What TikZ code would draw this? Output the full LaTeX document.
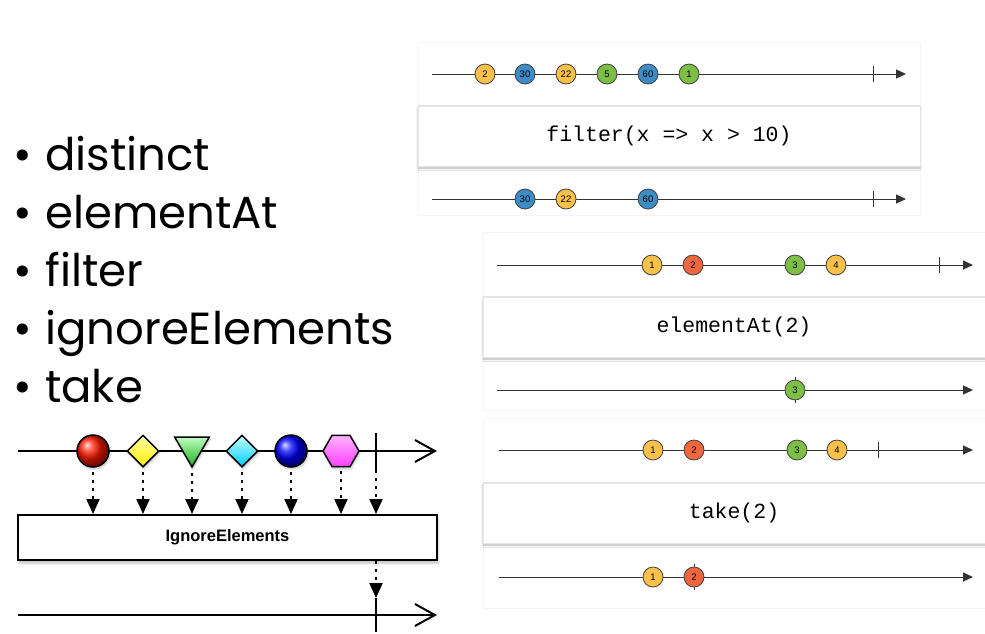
\documentclass[tikz,border=0pt]{standalone}
\usepackage{fontspec}
\setmainfont{Poppins}
\newfontfamily\monofont{Liberation Mono}
\newfontfamily\helvfont{Liberation Sans}
\usetikzlibrary{positioning,arrows.meta,calc,shapes.geometric,shadows.blur}
\definecolor{yel}{HTML}{F9C04A}
\definecolor{blu}{HTML}{3C8DC5}
\definecolor{grn}{HTML}{7DBF45}
\definecolor{org}{HTML}{F0663F}
\definecolor{lineGray}{HTML}{333333}
\definecolor{panelEdge}{HTML}{E6E6E6}

\tikzset{
  marble/.style={circle,draw=black!75,line width=0.8pt,minimum size=20pt,
    inner sep=0pt,font=\helvfont\fontsize{9.5}{9.5}\selectfont},
  timeline/.style={draw=lineGray,line width=1pt,-{Triangle[length=10pt,width=9pt]}},
  endtick/.style={draw=lineGray,line width=1pt},
  panel/.style={draw=panelEdge!40,fill=white,line width=0.6pt},
  opbox/.style={draw=panelEdge,fill=white,minimum height=60pt,inner sep=0pt,
    blur shadow={shadow xshift=0pt,shadow yshift=-2pt,shadow blur steps=4,shadow opacity=30},
    font=\monofont\fontsize{21.5}{21.5}\selectfont},
  rxline/.style={draw=black,line width=2pt,-{Straight Barb[length=20pt,width=22pt]}},
  rxtick/.style={draw=black,line width=2pt},
  rxshape/.style={draw=black,line width=1.5pt,inner sep=0pt,
    blur shadow={shadow xshift=1pt,shadow yshift=-2pt,shadow opacity=25}},
  emit/.style={draw=black,line width=2pt,dash pattern=on 3pt off 5pt,
    -{Triangle[length=15pt,width=13pt]}},
  item/.style={anchor=base west,font=\fontsize{45}{45}\selectfont,inner sep=0pt}
}

\begin{document}
\begin{tikzpicture}[x=1pt,y=-1pt]
\useasboundingbox (0,0) rectangle (985,633);

% operator list
\node[item] (l1) at (13,170) {\makebox[32pt][l]{\textbullet}distinct};
\node[item] (l2) at (13,228) {\makebox[32pt][l]{\textbullet}elementAt};
\node[item] (l3) at (13,286) {\makebox[32pt][l]{\textbullet}filter};
\node[item] (l4) at (13,344) {\makebox[32pt][l]{\textbullet}ignoreElements};
\node[item] (l5) at (13,402) {\makebox[32pt][l]{\textbullet}take};

% filter panel
\draw[panel] (418,42) rectangle (920,215);
\node[opbox,minimum width=502pt] (fop) at (669,136) {filter(x => x > 10)};
\coordinate (fa0) at (432,74);
\coordinate (fa9) at (906,74);
\draw[timeline] (fa0) -- (fa9);
\draw[endtick] (873,66) -- (873,82);
\foreach \x/\v/\c [count=\i] in {485/2/yel,525/30/blu,566/22/yel,607/5/grn,648/60/blu,689/1/grn}
  \node[marble,fill=\c] (fa\i) at (\x,74) {\v};
\coordinate (fb0) at (432,199);
\coordinate (fb9) at (906,199);
\draw[timeline] (fb0) -- (fb9);
\draw[endtick] (873,191) -- (873,207);
\foreach \x/\v/\c [count=\i] in {525/30/blu,566/22/yel,648/60/blu}
  \node[marble,fill=\c] (fb\i) at (\x,199) {\v};

% elementAt panel
\draw[panel] (483,232) rectangle (985,410);
\node[opbox,minimum width=502pt] (eop) at (734,327) {elementAt(2)};
\coordinate (ea0) at (497,265);
\coordinate (ea9) at (973,265);
\draw[timeline] (ea0) -- (ea9);
\draw[endtick] (939,257) -- (939,273);
\foreach \x/\v/\c [count=\i] in {652/1/yel,693/2/org,795/3/grn,836/4/yel}
  \node[marble,fill=\c] (ea\i) at (\x,265) {\v};
\coordinate (eb0) at (497,390);
\coordinate (eb9) at (973,390);
\draw[timeline] (eb0) -- (eb9);
\draw[endtick] (795,377) -- (795,403);
\node[marble,fill=grn] (eb1) at (795,390) {3};

% take panel
\draw[panel] (483,418) rectangle (985,608);
\node[opbox,minimum width=502pt] (top) at (734,513) {take(2)};
\coordinate (ta0) at (499,450);
\coordinate (ta9) at (973,450);
\draw[timeline] (ta0) -- (ta9);
\draw[endtick] (878,442) -- (878,458);
\foreach \x/\v/\c [count=\i] in {653/1/yel,694/2/org,797/3/grn,837/4/yel}
  \node[marble,fill=\c] (ta\i) at (\x,450) {\v};
\coordinate (tb0) at (499,577);
\coordinate (tb9) at (973,577);
\draw[timeline] (tb0) -- (tb9);
\draw[endtick] (694,564) -- (694,590);
\node[marble,fill=yel] (tb1) at (653,577) {1};
\node[marble,fill=org] (tb2) at (694,577) {2};

% ignoreElements marble diagram
\coordinate (ia0) at (18,451);
\coordinate (ia9) at (437,451);
\draw[rxline] (ia0) -- (ia9);
\node[rxshape,circle,minimum size=32pt,ball color=red!80!orange] (s1) at (93,451) {};
\node[rxshape,diamond,minimum size=32pt,top color=yellow!35,bottom color=yellow!85!orange] (s2) at (143,451) {};
\node[rxshape,regular polygon,regular polygon sides=3,shape border rotate=180,minimum size=40pt,
  top color=green!25,bottom color=green!65!black!90] (s3) at (192,447) {};
\node[rxshape,diamond,minimum size=32pt,top color=cyan!25,bottom color=cyan!80!blue] (s4) at (242,451) {};
\node[rxshape,circle,minimum size=32pt,ball color=blue] (s5) at (291,451) {};
\node[rxshape,regular polygon,regular polygon sides=6,minimum size=36pt,
  top color=magenta!30,bottom color=magenta!75] (s6) at (341,451) {};
\draw[rxtick] (376,433) -- (376,470);
\coordinate (tk) at (376,470);

\node[draw=black,line width=2pt,fill=white,minimum width=419pt,minimum height=45pt,
  blur shadow={shadow xshift=1pt,shadow yshift=-3pt,shadow opacity=25},
  font=\helvfont\bfseries\fontsize{16.5}{16.5}\selectfont] (ign) at (227.5,537.5) {IgnoreElements};

\foreach \s in {s1,s2,s4,s5,s6}
  \draw[emit] ($(\s.south)+(0,4)$) -- (\s.south |- ign.north);
\draw[emit] ($(s3.south)+(0,4)$) -- (s3.south |- ign.north);
\draw[emit] (tk) -- (tk |- ign.north);

\coordinate (ib0) at (18,615);
\coordinate (ib9) at (437,615);
\draw[rxline] (ib0) -- (ib9);
\draw[rxtick] (376,598) -- (376,632);
\draw[emit] (tk |- ign.south) -- (376,598);
\end{tikzpicture}
\end{document}
